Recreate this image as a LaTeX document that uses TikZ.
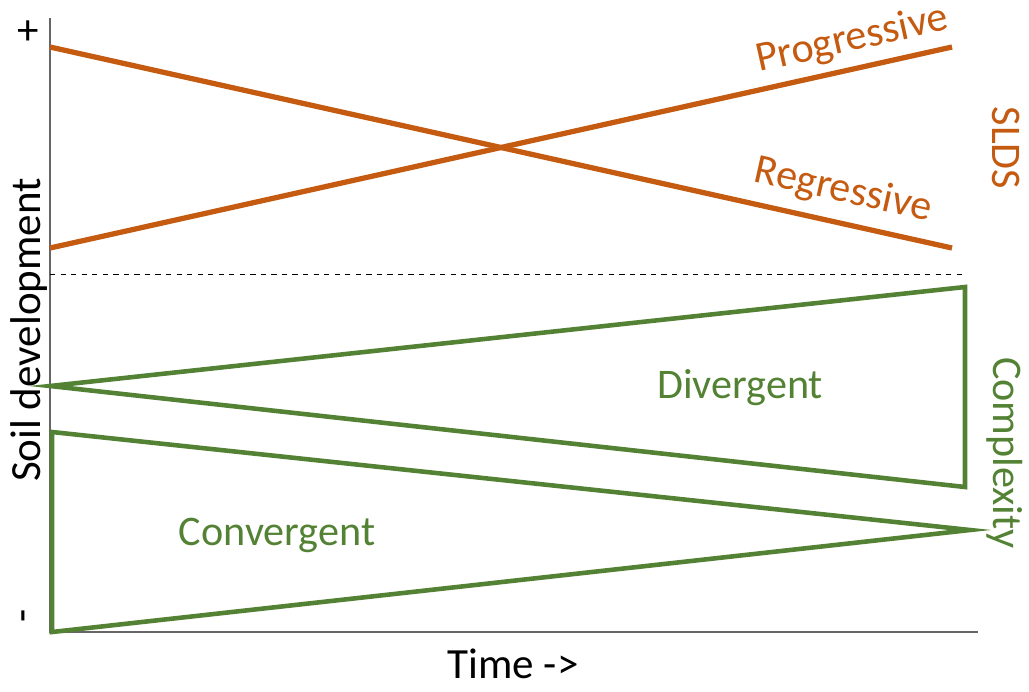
\documentclass[tikz,border=0pt]{standalone}
\usepackage{fontspec}
\setmainfont{Carlito}
\usetikzlibrary{positioning, calc}
\definecolor{sldsorange}{HTML}{C55A11}
\definecolor{cplxgreen}{HTML}{548235}
\tikzset{
    axisline/.style={draw=black!60, line width=0.8pt},
    divider/.style={draw=black, dashed, line width=0.4pt},
    sldsline/.style={draw=sldsorange, line width=3pt},
    cplxline/.style={draw=cplxgreen, line width=2.6pt, line join=miter},
    axislabel/.style={font=\fontsize{24.5}{29}\selectfont, text=black},
    sldslabel/.style={font=\fontsize{24}{29}\selectfont, text=sldsorange},
    cplxlabel/.style={font=\fontsize{24}{29}\selectfont, text=cplxgreen}
}

\begin{document}
\begin{tikzpicture}[x=0.02cm, y=-0.02cm]
\useasboundingbox (0,0) rectangle (1029,691);

% axes
\coordinate (top) at (50,18);
\coordinate (origin) at (50,632);
\coordinate (tend) at (978,632);
\draw[axisline] (top) -- (origin) -- (tend);
\node[axislabel] (plus) at (28,33) {+};
\node[axislabel, rotate=90] (minus) at (29,616) {-};
\node[axislabel, rotate=90] (ylab) at (29,330) {Soil development};
\node[axislabel] (xlab) at (513,664) {Time ->};

% divider between the two panels
\coordinate (divl) at (50,274);
\coordinate (divr) at (965,274);
\draw[divider] (divl) -- (divr);

% SLDS
\coordinate (regstart) at (50,47);
\coordinate (regend) at (952,248);
\coordinate (prostart) at (50,248);
\coordinate (proend) at (952,47);
\draw[sldsline] (regstart) -- (regend);
\draw[sldsline] (prostart) -- (proend);
\node[sldslabel, rotate=12.6] (prog) at (852,40) {Progressive};
\node[sldslabel, rotate=-12.6] (regr) at (843,191) {Regressive};
\node[sldslabel, rotate=-90] (slds) at (1006,148) {SLDS};

% complexity
\coordinate (divtip) at (50,386);
\coordinate (divtop) at (965,287);
\coordinate (divbot) at (965,487);
\draw[cplxline] (divtip) -- (divtop) -- (divbot) -- cycle;
\coordinate (contop) at (52,432);
\coordinate (contip) at (970,530);
\coordinate (conbot) at (52,632);
\draw[cplxline] (contop) -- (contip) -- (conbot) -- cycle;
\node[cplxlabel] (divg) at (740,388) {Divergent};
\node[cplxlabel] (conv) at (277,535) {Convergent};
\node[cplxlabel, rotate=-90] (cplx) at (1005,453) {Complexity};
\end{tikzpicture}
\end{document}
